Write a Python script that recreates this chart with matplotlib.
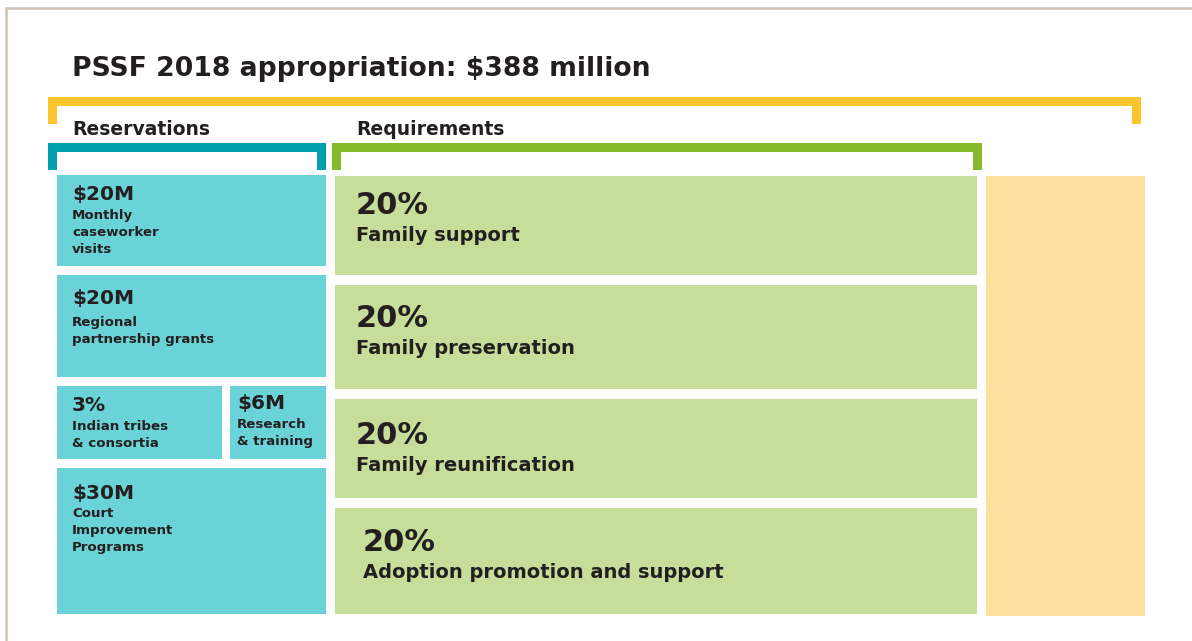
import matplotlib.pyplot as plt
from matplotlib.patches import Rectangle

# --- data -------------------------------------------------------------
title = "PSSF 2018 appropriation: $388 million"
group_names = ["Reservations", "Requirements"]

reserve_amounts = ["$20M", "$20M", "3%", "$6M", "$30M"]
reserve_labels = [
    "Monthly\ncaseworker\nvisits",
    "Regional\npartnership grants",
    "Indian tribes\n& consortia",
    "Research\n& training",
    "Court\nImprovement\nPrograms",
]

require_shares = ["20%", "20%", "20%", "20%"]
require_labels = [
    "Family support",
    "Family preservation",
    "Family reunification",
    "Adoption promotion and support",
]

# --- layout (pixel space of the 1192x641 canvas) ----------------------
# (x0, y0, x1, y1) for each box, plus text anchor (x, amount baseline)
reserve_boxes = [
    (57, 175, 326, 266),
    (57, 275, 326, 377),
    (57, 386, 222, 459),
    (230, 386, 326, 459),
    (57, 468, 326, 614),
]
reserve_text = [(72, 200), (72, 304), (72, 411), (237, 409), (72, 499)]
reserve_label_gap = [19, 22, 19, 19, 18]

require_boxes = [
    (335, 176, 977, 275),
    (335, 285, 977, 389),
    (335, 399, 977, 498),
    (335, 508, 977, 614),
]
require_text = [(356, 214), (356, 327), (356, 444), (363, 551)]
other_box = (986, 176, 1145, 616)

TEAL_BOX = "#6ad3d7"
GREEN_BOX = "#c6de99"
YELLOW_BOX = "#fde09d"
YELLOW = "#fec62e"
TEAL = "#009fae"
GREEN = "#86ba2a"
INK = "#231f20"
FRAME = "#cdc3b8"

plt.rcParams["font.family"] = ["DejaVu Sans"]

fig = plt.figure(figsize=(11.92, 6.41), dpi=100)
ax = fig.add_axes([0, 0, 1, 1])
ax.set_xlim(0, 1192)
ax.set_ylim(641, 0)
ax.axis("off")


def box(x0, y0, x1, y1, color):
    ax.add_patch(Rectangle((x0, y0), x1 - x0, y1 - y0, color=color, lw=0))


def bracket(x0, x1, top, bottom, thick, color):
    box(x0, top, x1, top + thick, color)
    box(x0, top, x0 + thick, bottom, color)
    box(x1 - thick, top, x1, bottom, color)


# outer frame (left and top edges visible)
ax.plot([5.5, 5.5, 1192], [641, 7.5, 7.5], color=FRAME, lw=1.8,
        solid_joinstyle="miter")

ax.text(72, 76, title, fontsize=19.2, fontweight="bold", color=INK,
        va="baseline")

bracket(48, 1141, 97, 124, 9, YELLOW)
bracket(48, 326, 143, 170, 9, TEAL)
bracket(332, 982, 143, 170, 9, GREEN)

ax.text(72, 135, group_names[0], fontsize=13.5, fontweight="bold",
        color=INK, va="baseline")
ax.text(356, 135, group_names[1], fontsize=13.5, fontweight="bold",
        color=INK, va="baseline")

for (x0, y0, x1, y1), (tx, ty), amt, lab, gap in zip(
        reserve_boxes, reserve_text, reserve_amounts, reserve_labels,
        reserve_label_gap):
    box(x0, y0, x1, y1, TEAL_BOX)
    ax.text(tx, ty, amt, fontsize=14.5, fontweight="bold", color=INK,
            va="baseline")
    for i, line in enumerate(lab.split("\n")):
        ax.text(tx, ty + gap + 17 * i, line, fontsize=9.6, fontweight="semibold",
                color=INK, va="baseline")

for (x0, y0, x1, y1), (tx, ty), share, lab in zip(
        require_boxes, require_text, require_shares, require_labels):
    box(x0, y0, x1, y1, GREEN_BOX)
    ax.text(tx, ty, share, fontsize=22, fontweight="bold", color=INK,
            va="baseline")
    ax.text(tx, ty + 27, lab, fontsize=14, fontweight="semibold", color=INK,
            va="baseline")

box(*other_box, YELLOW_BOX)

fig.savefig("out.png", dpi=100)
